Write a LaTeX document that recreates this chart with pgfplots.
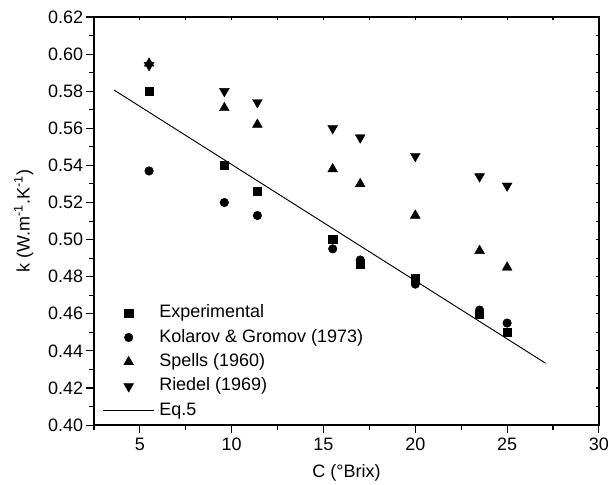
\documentclass[border=0pt]{standalone}
\usepackage{fontspec}
\setmainfont{Liberation Sans}
\usepackage{pgfplots}
\pgfplotsset{compat=1.18}

\pgfplotstableread{
x     exp    kol    spells riedel
5.5   0.580  0.537  0.595  0.594
9.6   0.540  0.520  0.571  0.580
11.4  0.526  0.513  0.562  0.574
15.5  0.500  0.495  0.538  0.560
17    0.487  0.489  0.530  0.555
20    0.479  0.476  0.513  0.545
23.5  0.460  0.462  0.494  0.534
25    0.450  0.455  0.485  0.529
}\kdata

\begin{document}
\begin{tikzpicture}[font=\fontsize{13.3}{16}\selectfont]
\pgfplotsset{
  frame/.style={
    scale only axis, width=373.5pt, height=301.8pt,
    xmin=2.5, xmax=30, ymin=0.40, ymax=0.62,
    xtick={5,10,15,20,25,30},
    minor xtick={2.5,7.5,12.5,17.5,22.5,27.5},
    ytick={0.40,0.42,0.44,0.46,0.48,0.50,0.52,0.54,0.56,0.58,0.60,0.62},
    minor ytick={0.41,0.43,0.45,0.47,0.49,0.51,0.53,0.55,0.57,0.59,0.61},
    axis line style={line width=1pt},
    tick style={line width=0.8pt, black},
  }
}
% inner ticks on top and right
\begin{axis}[frame,
    xtick pos=top, ytick pos=right, tick align=inside,
    major tick length=2.5pt, minor tick length=2.5pt,
    xticklabels={}, yticklabels={},
]
\end{axis}

\begin{axis}[frame, name=ax,
    xtick pos=bottom, ytick pos=left, tick align=outside,
    major tick length=6pt, minor tick length=3.7pt,
    /pgf/number format/assume math mode=true,
    yticklabel style={xshift=1.5pt, /pgf/number format/.cd, fixed, fixed zerofill, precision=2},
    xlabel={C (°Brix)},
    ylabel={k (W.m\textsuperscript{-1}.K\textsuperscript{-1})},
    xlabel style={at={(rel axis cs:0.5,0)}, anchor=center, yshift=-35.5pt},
    ylabel style={at={(rel axis cs:0,0.5)}, anchor=center, yshift=52pt},
    legend cell align=left,
    legend style={at={(0.017,0.299)}, anchor=north west, draw=none, fill=none,
      inner sep=0pt, row sep=3.8pt,
      nodes={inner xsep=3.5pt, inner ysep=1pt, text height=9.5pt, text depth=2.8pt}},
    legend image code/.code={\draw[#1, mark repeat=2, mark phase=2]
      plot coordinates {(0cm,0cm) (0.66cm,0cm) (1.32cm,0cm)};},
]
\addplot[only marks, mark=square*, mark size=3pt, black, line width=0.3pt] table[x=x, y=exp] {\kdata};
\addlegendentry{Experimental}
\addplot[only marks, mark=*, mark size=3.2pt, black, line width=0.3pt] table[x=x, y=kol] {\kdata};
\addlegendentry{Kolarov \& Gromov (1973)}
\addplot[only marks, mark=triangle*, mark size=4.2pt, black, line width=0.3pt] table[x=x, y=spells] {\kdata};
\addlegendentry{Spells (1960)}
\addplot[only marks, mark=triangle*, mark size=4.2pt, black, line width=0.3pt, mark options={rotate=180}] table[x=x, y=riedel] {\kdata};
\addlegendentry{Riedel (1969)}
\addplot[black, line width=0.7pt, mark=none] coordinates {(3.6,0.5806) (27.1,0.4333)};
\addlegendentry{Eq.5}
\end{axis}
\pgfresetboundingbox
\path ([shift={(-69.5pt,-43.6pt)}]ax.south west) rectangle ([shift={(10.4pt,12.6pt)}]ax.north east);
\end{tikzpicture}
\end{document}
